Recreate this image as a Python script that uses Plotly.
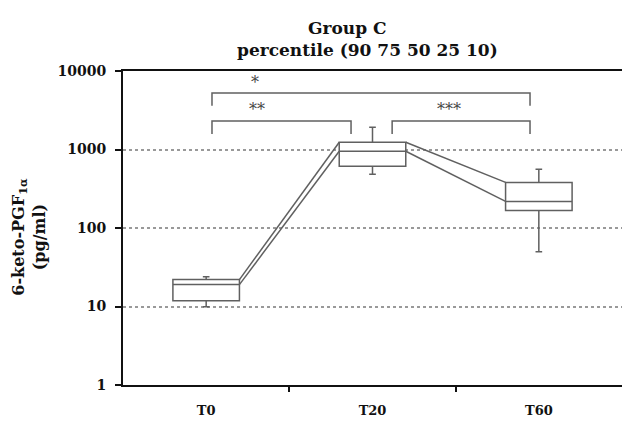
import plotly.graph_objects as go

# ---- data ----
categories = ["T0", "T20", "T60"]
p10 = [9.9, 483, 50]
p25 = [11.8, 611, 167]
p50 = [19, 950, 218]
p75 = [22, 1238, 381]
p90 = [24, 1924, 559]

y_tickvals = [1, 10, 100, 1000, 10000]
y_ticktext = ["1", "10", "100", "1000", "10000"]

comparisons = [(0, 2), (0, 1), (1, 2)]
comparison_labels = ["*", "**", "***"]

title_line1 = "Group C"
title_line2 = "percentile (90 75 50 25 10)"
y_title = "6-keto-PGF<sub>1α</sub><br>(pg/ml)"

# ---- style ----
FONT = "DejaVu Serif"
BOXC = "#606060"
HALF = 0.2
xs = list(range(len(categories)))

fig = go.Figure()

for i, c in enumerate(categories):
    fig.add_trace(go.Box(
        x=[xs[i]], q1=[p25[i]], median=[p50[i]], q3=[p75[i]],
        lowerfence=[p10[i]], upperfence=[p90[i]],
        width=HALF * 2, whiskerwidth=0.1,
        line=dict(color=BOXC, width=1.5), fillcolor="white",
        boxpoints=False, showlegend=False, hoverinfo="skip",
    ))

# connecting lines (75th percentile and median)
for series in (p75, p50):
    lx, ly = [], []
    for i in range(len(categories) - 1):
        lx += [xs[i] + HALF, xs[i + 1] - HALF, None]
        ly += [series[i], series[i + 1], None]
    fig.add_trace(go.Scatter(x=lx, y=ly, mode="lines",
                             line=dict(color=BOXC, width=1.5),
                             showlegend=False, hoverinfo="skip"))

# significance brackets (paper y)
levels = [(0.930, 0.889), (0.841, 0.799), (0.841, 0.799)]
left_off = [0.035, 0.035, 0.118]
right_off = [0.053, 0.129, 0.053]
star_off = [0.26, 0.27, 0.34]
star_y = [0.975, 0.889, 0.889]
for k, (a, b) in enumerate(comparisons):
    x0 = xs[a] + left_off[k]
    x1 = xs[b] - right_off[k]
    top, leg = levels[k]
    fig.add_shape(type="path", xref="x", yref="paper",
                  path=f"M {x0},{leg} L {x0},{top} L {x1},{top} L {x1},{leg}",
                  line=dict(color=BOXC, width=1.5))
    fig.add_annotation(x=x0 + star_off[k], y=star_y[k], xref="x", yref="paper",
                       text=comparison_labels[k], showarrow=False,
                       font=dict(family=FONT, size=16, color="#444"),
                       yanchor="middle", yshift=-4)

# titles
fig.add_annotation(x=0.449, y=1.175, xref="paper", yref="paper", text=f"<b>{title_line1}</b>",
                   showarrow=False, font=dict(family=FONT, size=17, color="#111"))
fig.add_annotation(x=0.489, y=1.105, xref="paper", yref="paper", text=f"<b>{title_line2}</b>",
                   showarrow=False, font=dict(family=FONT, size=17, color="#111"))
fig.add_annotation(x=-0.188, y=0.473, xref="paper", yref="paper", text=f"<b>{y_title}</b>",
                   textangle=-90, showarrow=False, xanchor="center", yanchor="middle",
                   font=dict(family=FONT, size=16, color="#111"))

fig.update_layout(
    width=623, height=421,
    margin=dict(l=123, r=1, t=71, b=36),
    paper_bgcolor="white", plot_bgcolor="white",
    font=dict(family=FONT, color="#111"),
    xaxis=dict(range=[-0.5, 2.5], tickvals=xs, ticktext=[f"<b>{c}</b>" for c in categories],
               ticks="", showgrid=False, zeroline=False,
               showline=True, linecolor="#111", linewidth=2, mirror=True,
               tickfont=dict(family=FONT, size=13, color="#111"),
               ticklabelstandoff=12,
               minor=dict(tickvals=[0.5, 1.5], ticks="outside", ticklen=5,
                          tickwidth=2, tickcolor="#111", showgrid=False)),
    yaxis=dict(type="log", range=[0, 4], tickvals=y_tickvals,
               ticktext=[f"<b>{t}</b>" for t in y_ticktext],
               ticks="outside", ticklen=6, tickwidth=2, tickcolor="#111",
               showline=True, linecolor="#111", linewidth=2,
               showgrid=True, gridcolor="#999", griddash="dot", gridwidth=1.5,
               zeroline=False, tickfont=dict(family=FONT, size=14, color="#111"),
               ticklabelstandoff=6),
)

fig.write_html("out.html", config={"displayModeBar": False},
               post_script="document.body.style.margin='0';document.body.style.overflow='hidden';")
